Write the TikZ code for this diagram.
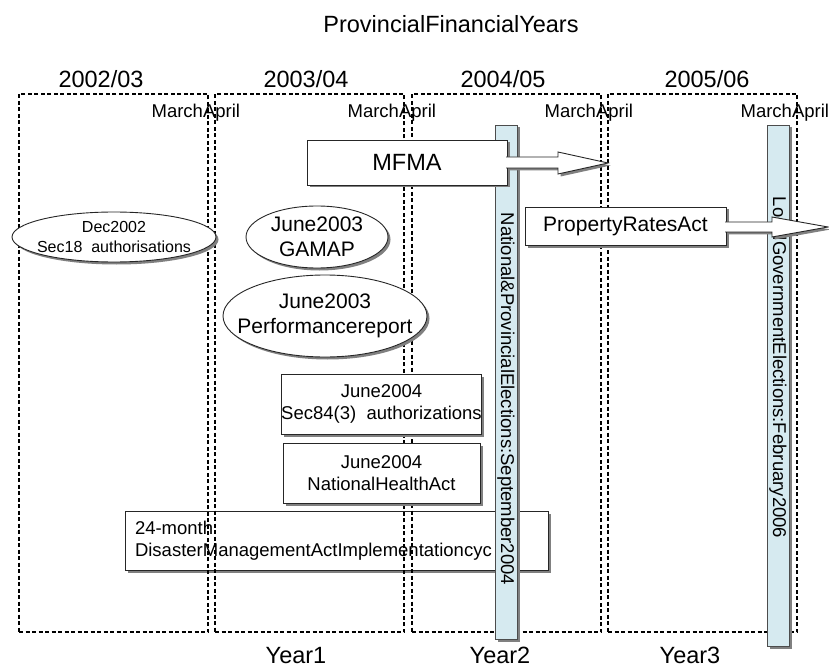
\documentclass[tikz,border=0pt]{standalone}
\usepackage{fontspec}
\setmainfont{Liberation Sans}
\usepackage{xcolor}
\usetikzlibrary{shapes.geometric}
\usetikzlibrary{shadows}

\definecolor{barblue}{RGB}{214,234,240}
\definecolor{shadowgray}{RGB}{128,128,128}

\begin{document}
\begin{tikzpicture}[x=1pt, y=-1pt]
	% Define styles for nodes
	\tikzstyle{every node}=[inner sep=0pt, outer sep=0pt]
	\tikzstyle{bigtext}=[font=\fontsize{23.5}{28}\selectfont]
	\tikzstyle{midtext}=[font=\fontsize{21}{25}\selectfont]
	\tikzstyle{smalltext}=[font=\fontsize{18.5}{22.5}\selectfont]
	\tikzstyle{tinytext}=[font=\fontsize{16}{20}\selectfont]
	\tikzstyle{boxshadow}=[drop shadow={shadow xshift=2.5pt, shadow yshift=-2.5pt, fill=shadowgray, opacity=1}]
	\tikzstyle{panel}=[draw, line width=1.5pt, dash pattern=on 4pt off 2.5pt, minimum width=189pt, minimum height=538pt]
	\tikzstyle{event}=[ellipse, draw=black!85, line width=0.9pt, fill=white, boxshadow]
	\tikzstyle{act}=[rectangle, draw=black!85, line width=0.9pt, fill=white, boxshadow]
	\tikzstyle{callout}=[draw=black!85, line width=0.9pt, fill=white, boxshadow]
	\tikzstyle{election}=[rectangle, draw=black!70, line width=0.9pt, fill=barblue, boxshadow, minimum width=22pt]
	\tikzstyle{bartext}=[smalltext, rotate=-90]
	
	\useasboundingbox (0,0) rectangle (829,668);
	
	% long box under the year panels
	\node[act, smalltext, align=left, text width=403pt, minimum width=423pt, minimum height=59pt] (dmact) at (336.5,540.5) {24-month\\DisasterManagementActImplementationcyc};
	
	% financial year panels
	\foreach \x [count=\i] in {19,215,412,608}
		\node[panel, anchor=north west] (fy\i) at (\x,94) {};
	\foreach \x [count=\i] in {203,399,596,792}{
		\node[smalltext, anchor=base east] (mar\i) at (\x,118) {March};
		\node[smalltext, anchor=base west] (apr\i) at (\x,118) {April};
	}
	
	\node[bigtext, anchor=base] (title) at (451,33) {ProvincialFinancialYears};
	\node[bigtext, anchor=base] (y1) at (101,88) {2002/03};
	\node[bigtext, anchor=base] (y2) at (306,88) {2003/04};
	\node[bigtext, anchor=base] (y3) at (503,88) {2004/05};
	\node[bigtext, anchor=base] (y4) at (707,88) {2005/06};
	\node[bigtext, anchor=base] (yr1) at (296,663) {Year1};
	\node[bigtext, anchor=base] (yr2) at (500,663) {Year2};
	\node[bigtext, anchor=base] (yr3) at (690,663) {Year3};
	
	% events
	\node[event, minimum width=204pt, minimum height=50pt,
	label={[tinytext, align=center]center:{Dec2002\\Sec18\ \ authorisations}}] (dec02) at (114,237) {};
	\node[event, minimum width=142pt, minimum height=62pt,
	label={[midtext, align=center]center:{June2003\\GAMAP}}] (gamap) at (317,237) {};
	\node[event, minimum width=204pt, minimum height=82pt,
	label={[midtext, align=center]center:{June2003\\Performancereport}}] (perf) at (325,316) {};
	
	\node[act, smalltext, align=center, minimum width=197pt, minimum height=60pt] (sec84) at (381.5,404) {June2004\\Sec84(3)\ \ authorizations};
	\node[act, smalltext, align=center, minimum width=197pt, minimum height=60pt] (health) at (381.5,473) {June2004\\NationalHealthAct};
	
	% elections
	\node[election, minimum height=514pt] (npe) at (506,382) {};
	\node[bartext] (npetext) at (506,399) {National\&ProvincialElections:September2004};
	\node[election, minimum height=521pt] (lge) at (778,385.5) {};
	\node[bartext] (lgetext) at (778,367.5) {LocalGovernmentElections:February2006};
	
	% acts with arrows
	\node[act, bigtext, minimum width=200pt, minimum height=45pt] (mfma) at (407,162.5) {MFMA};
	\coordinate (mfmatip) at (608,163);
	\path[callout] (506,157) -- (558,157) -- (558,152) -- (mfmatip) -- (558,174) -- (558,168) -- (506,168);
	
	\node[act, midtext, minimum width=201pt, minimum height=38pt] (prates) at (625.5,226) {PropertyRatesAct};
	\coordinate (ratestip) at (828,227);
	\path[callout] (725,222) -- (772,222) -- (772,217) -- (ratestip) -- (772,237) -- (772,232) -- (725,232);
	
\end{tikzpicture}
\end{document}
